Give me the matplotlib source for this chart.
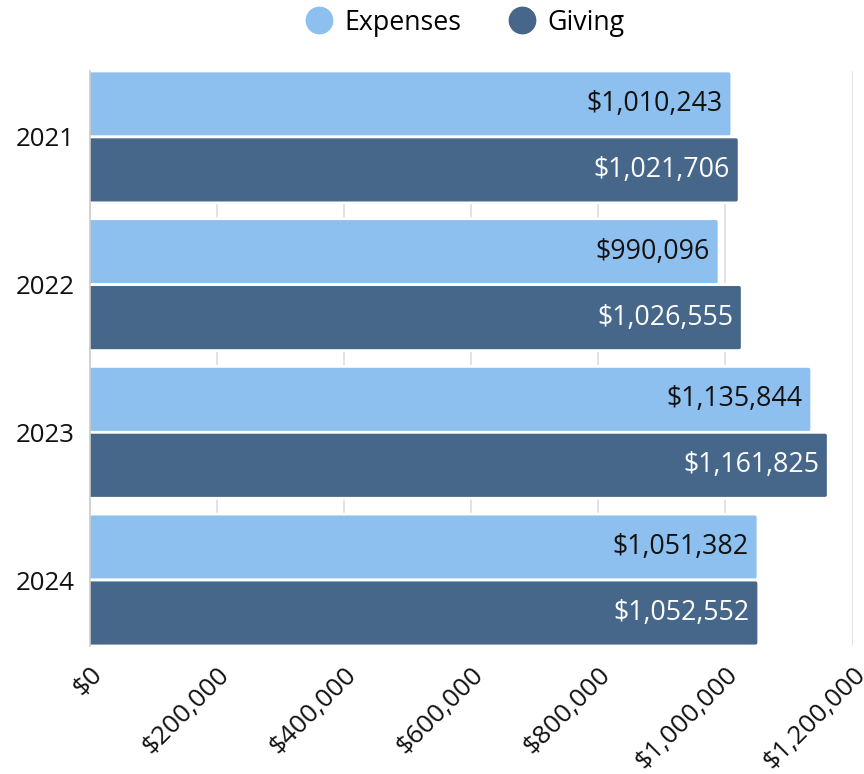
import matplotlib
matplotlib.use("Agg")
import matplotlib.pyplot as plt
import matplotlib.transforms as mtransforms
from matplotlib.lines import Line2D
from matplotlib.patches import FancyBboxPatch
import numpy as np

plt.rcParams['font.family'] = ['Open Sans', 'DejaVu Sans']

years = ['2021', '2022', '2023', '2024']
expenses = [1010243, 990096, 1135844, 1051382]
giving = [1021706, 1026555, 1161825, 1052552]
series_names = ['Expenses', 'Giving']
colors = ['#8DC0EF', '#466789']
label_colors = ['#111111', '#FFFFFF']
xticks = [0, 200000, 400000, 600000, 800000, 1000000, 1200000]

fig = plt.figure(figsize=(8.64, 7.74), dpi=100)
ax = fig.add_axes([0.1036, 0.1654, 0.8831, 0.7429])

w = 0.893
y = np.arange(len(years))
bh = w / 2
ax.set_xlim(0, 1200000)
ax.set_ylim(len(years) - 1 + w / 2, -w / 2)

# pixel sizes in data units, for small rounded bar ends
fig.canvas.draw()
bbox = ax.get_window_extent()
x_per_px = 1200000 / bbox.width
y_per_px = (len(years) - 1 + w) / bbox.height
r_px = 3.0

for i, (vals, col, lc) in enumerate(zip([expenses, giving], colors, label_colors)):
    ypos = y - w / 4 + i * bh
    bars = ax.barh(ypos, vals, height=bh, color=col, edgecolor='white', linewidth=2.0, zorder=2)
    for rect in bars:
        x0, y0 = rect.get_x(), rect.get_y()
        wd, ht = rect.get_width(), rect.get_height()
        rect.set_visible(False)
        rnd = r_px * x_per_px
        fb = FancyBboxPatch((x0 - 2 * rnd, y0), wd + 2 * rnd, ht,
                            boxstyle=f"round,pad=0,rounding_size={rnd}",
                            mutation_aspect=y_per_px / x_per_px,
                            facecolor=col, edgecolor='white', linewidth=2.0, zorder=2)
        ax.add_patch(fb)
    for yy, v in zip(ypos, vals):
        ax.annotate(f"${v:,.0f}", xy=(v, yy), xytext=(-6.5, 0), textcoords='offset points',
                    ha='right', va='center', fontsize=19.3, color=lc, zorder=3)

ax.set_xlim(0, 1200000)
ax.set_ylim(len(years) - 1 + w / 2, -w / 2)
ax.set_yticks(y)
ax.set_yticklabels(years, fontsize=18.6, color='#111111')
ax.set_xticks(xticks)
ax.tick_params(axis='x', labelbottom=False)

# rotated x tick labels placed with the axis' own x scale
trans = mtransforms.blended_transform_factory(ax.transData, ax.transAxes) + \
    mtransforms.ScaledTranslation(9 / 100, -25 / 100, fig.dpi_scale_trans)
for t in xticks:
    ax.text(t, 0, f"${t:,.0f}", transform=trans, fontsize=18.8, color='#111111',
            rotation=45, ha='right', va='center', rotation_mode='anchor', clip_on=False)

ax.tick_params(axis='both', length=0)
ax.tick_params(axis='y', pad=10.5)
ax.grid(axis='x', color='#DDDDDD', linewidth=1.2, zorder=0)
ax.set_axisbelow(True)
for s in ['top', 'right', 'bottom']:
    ax.spines[s].set_visible(False)
ax.spines['left'].set_color('#CCCCCC')
ax.spines['left'].set_linewidth(1.2)
ax.spines['left'].set_zorder(3)

handles = [Line2D([], [], marker='o', linestyle='none', markersize=19,
                  markerfacecolor=c, markeredgecolor=c) for c in colors]
fig.legend(handles, series_names, loc='upper center', bbox_to_anchor=(0.538, 1.020),
           ncol=2, frameon=False, fontsize=19.3, handletextpad=0.45, columnspacing=1.75,
           handlelength=1.0)

fig.savefig('out.png', dpi=100)
